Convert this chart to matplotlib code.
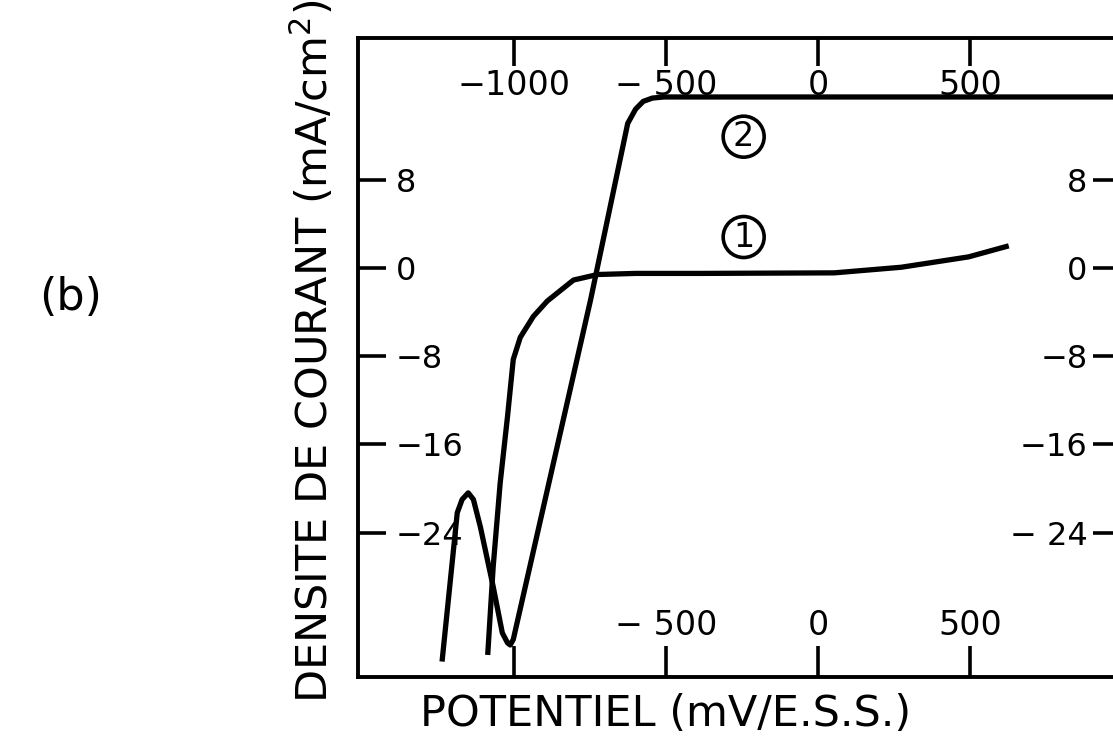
import numpy as np
import matplotlib
matplotlib.use("Agg")
import matplotlib.pyplot as plt

plt.rcParams['font.family'] = ['DejaVu Sans']

# courbe 1 : potentiel (mV/E.S.S.) et densité de courant (mA/cm2)
e1 = [-1086, -1068, -1045, -1021, -1002, -979, -936, -890, -804, -725,
      -600, -385, 53, 273, 494, 626]
i1 = [-35.1, -27.1, -19.5, -13.5, -8.3, -6.3, -4.4, -3.0, -1.1, -0.6,
      -0.5, -0.5, -0.45, 0.06, 1.0, 2.0]

# courbe 2
e2 = [-1236, -1186, -1170, -1150, -1133, -1110, -1068, -1038, -1021, -1012,
      -1002, -748, -626, -600, -575, -545, -507, 0, 500, 985]
i2 = [-35.7, -22.2, -21.0, -20.4, -21.0, -23.5, -28.9, -33.1, -34.0, -34.2,
      -33.7, -2.9, 13.1, 14.4, 15.1, 15.4, 15.5, 15.5, 15.5, 15.5]

xticks = [-1000, -500, 0, 500]
xlabels_top = ['\u22121000', '\u2212 500', '0', '500']
xlabels_bot = ['', '\u2212 500', '0', '500']
yticks = [8, 0, -8, -16, -24]
ylabels = ['8', '0', '\u22128', '\u221216', '\u221224']
ylabels_right = ['8', '0', '\u22128', '\u221216', '\u2212 24']

fig = plt.figure(figsize=(11.13, 7.39), dpi=100)
ax = fig.add_axes([0.3217, 0.0839, 0.6828, 0.8647])

ax.plot(e1, i1, color='black', lw=3.8, solid_capstyle='butt')
ax.plot(e2, i2, color='black', lw=3.8, solid_capstyle='butt')

ax.set_xlim(-1512, 985)
ax.set_ylim(-37.1, 20.85)

for s in ax.spines.values():
    s.set_linewidth(2.8)

# graduations en bas (intérieures, étiquettes au-dessus)
ax.set_xticks(xticks)
ax.set_xticklabels(xlabels_bot)
ax.tick_params(axis='x', direction='in', length=22, width=2.6,
               pad=-25, labelsize=24)
for t in ax.get_xticklabels():
    t.set_va('bottom')

# graduations à gauche (intérieures, étiquettes à droite)
ax.set_yticks(yticks)
ax.set_yticklabels(ylabels)
ax.tick_params(axis='y', direction='in', length=20, width=2.6,
               pad=-27, labelsize=23)
for t in ax.get_yticklabels():
    t.set_ha('left')

# graduations en haut
top = ax.secondary_xaxis('top')
top.set_xticks(xticks)
top.set_xticklabels(xlabels_top)
top.tick_params(direction='in', length=20, width=2.6, pad=-22, labelsize=24)
for t in top.get_xticklabels():
    t.set_va('top')

# graduations à droite
right = ax.secondary_yaxis('right')
right.set_yticks(yticks)
right.set_yticklabels(ylabels_right)
right.tick_params(direction='in', length=18, width=2.6, pad=-22, labelsize=23)
for t in right.get_yticklabels():
    t.set_ha('right')

ax.set_ylabel('DENSITE DE COURANT (mA/cm$^2$)', fontsize=31)
ax.yaxis.set_label_coords(-0.028, 0.51)
ax.set_xlabel('POTENTIEL (mV/E.S.S.)', fontsize=31)
ax.xaxis.set_label_coords(0.405, -0.025)

# repères des courbes
circ = dict(boxstyle='circle,pad=0.12', fc='none', ec='black', lw=2.6)
ax.text(-245, 11.9, '2', fontsize=24, ha='center', va='center', bbox=circ)
ax.text(-245, 2.8, '1', fontsize=24, ha='center', va='center', bbox=circ)

fig.text(0.063, 0.597, '(b)', fontsize=32, ha='center', va='center')

fig.savefig('out.png', dpi=100)
